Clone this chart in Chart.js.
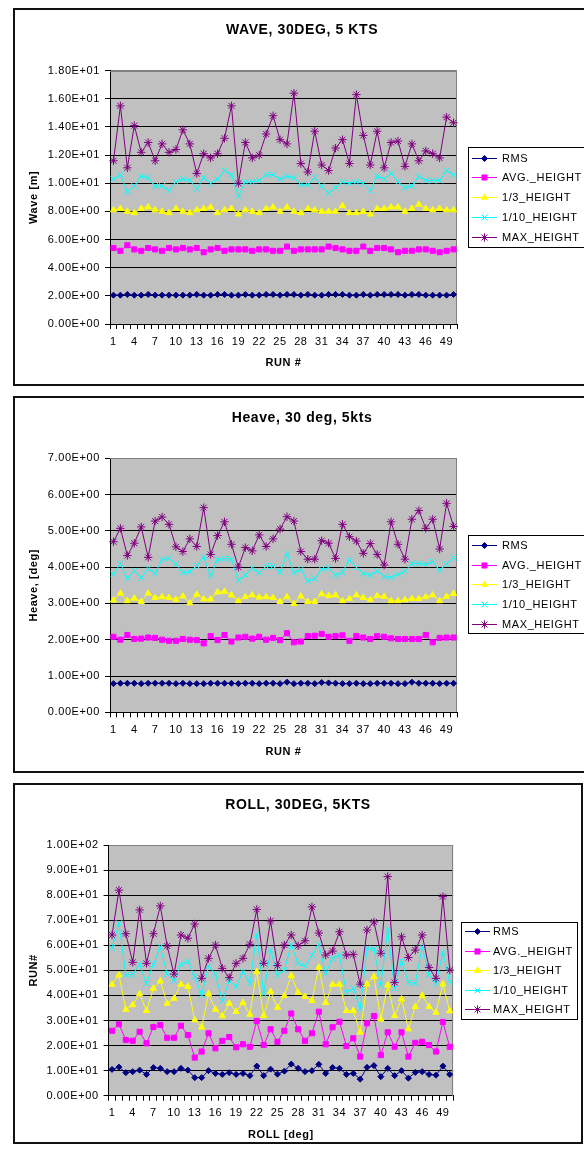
<!DOCTYPE html>
<html>
<head>
<meta charset="utf-8">
<script src="https://cdn.jsdelivr.net/npm/chart.js@4/dist/chart.umd.min.js"></script>
<style>
html,body{margin:0;padding:0;background:#fff;width:584px;height:1151px;overflow:hidden;}
body{position:relative;}
canvas{position:absolute;left:13px;}
.box{position:absolute;left:13px;border:2px solid #111;box-sizing:border-box;pointer-events:none;}
</style>
</head>
<body>
<canvas id="c1" width="578" height="378" style="top:8px;width:578px;height:378px"></canvas>
<div class="box" style="top:8px;width:578px;height:378px"></div>
<canvas id="c2" width="578" height="377" style="top:396px;width:578px;height:377px"></canvas>
<div class="box" style="top:396px;width:578px;height:377px"></div>
<canvas id="c3" width="570" height="361" style="top:783px;width:570px;height:361px"></canvas>
<div class="box" style="top:783px;width:570px;height:361px"></div>
<script>
// ---------- DATA ----------
const runs = ['1','2','3','4','5','6','7','8','9','10','11','12','13','14','15','16','17','18','19','20','21','22','23','24','25','26','27','28','29','30','31','32','33','34','35','36','37','38','39','40','41','42','43','44','45','46','47','48','49','50'];
const shownRunLabels = ['1','4','7','10','13','16','19','22','25','28','31','34','37','40','43','46','49'];
const seriesNames = ['RMS','AVG._HEIGHT','1/3_HEIGHT','1/10_HEIGHT','MAX_HEIGHT'];

const waveYTicks = [0,2,4,6,8,10,12,14,16,18];
const heaveYTicks = [0,1,2,3,4,5,6,7];
const rollYTicks = [0,10,20,30,40,50,60,70,80,90,100];

const waveRms = [2.05,2.05,2.1,2.05,2.05,2.1,2.05,2.05,2.05,2.05,2.05,2.05,2.1,2.05,2.05,2.1,2.1,2.05,2.05,2.1,2.05,2.05,2.1,2.1,2.05,2.1,2.1,2.05,2.1,2.05,2.05,2.1,2.1,2.1,2.05,2.05,2.1,2.05,2.1,2.1,2.1,2.1,2.05,2.1,2.1,2.05,2.05,2.05,2.05,2.1];
const waveAvg = [5.4,5.2,5.6,5.3,5.2,5.4,5.3,5.2,5.4,5.3,5.4,5.3,5.4,5.1,5.3,5.4,5.2,5.3,5.3,5.3,5.2,5.3,5.3,5.2,5.2,5.5,5.2,5.3,5.3,5.3,5.3,5.5,5.4,5.3,5.2,5.2,5.5,5.2,5.4,5.4,5.3,5.1,5.2,5.2,5.3,5.3,5.2,5.1,5.2,5.3];
const waveH3 = [8.1,8.2,8.0,7.9,8.2,8.3,8.1,8.0,7.9,8.2,8.0,7.9,8.1,8.2,8.3,7.9,8.1,8.2,7.8,8.1,8.0,7.9,8.2,8.3,8.0,8.3,8.0,7.9,8.2,8.1,8.0,8.0,8.0,8.4,7.9,7.9,8.0,7.8,8.2,8.2,8.3,8.3,8.0,8.2,8.5,8.2,8.1,8.2,8.1,8.1];
const waveH10 = [10.3,10.6,9.4,9.8,10.5,10.4,9.8,9.8,9.5,10.1,10.3,10.2,9.6,10.4,10.0,10.3,10.9,10.6,9.1,10.1,10.1,10.2,10.6,10.6,10.3,10.5,10.4,9.9,9.9,10.4,9.8,9.3,9.7,10.1,10.0,10.1,10.0,9.5,10.5,10.3,10.7,10.1,9.7,9.8,10.5,10.2,10.2,10.2,10.9,10.6];
const waveMax = [11.6,15.5,11.1,14.1,12.2,12.9,11.6,12.8,12.2,12.4,13.8,12.8,10.7,12.1,11.8,12.1,13.2,15.5,10.0,12.9,11.8,12.0,13.5,14.8,13.1,12.8,16.4,11.4,10.8,13.7,11.3,10.9,12.5,13.1,11.4,16.3,13.4,11.3,13.7,11.1,12.9,13.0,11.2,12.8,11.6,12.3,12.1,11.8,14.7,14.3];

const heaveRms = [0.79,0.80,0.80,0.80,0.79,0.80,0.80,0.80,0.80,0.79,0.80,0.79,0.79,0.79,0.80,0.80,0.80,0.80,0.79,0.80,0.80,0.79,0.80,0.80,0.79,0.83,0.79,0.80,0.80,0.79,0.82,0.81,0.80,0.79,0.79,0.80,0.79,0.79,0.80,0.80,0.80,0.79,0.79,0.83,0.80,0.80,0.80,0.79,0.80,0.80];
const heaveAvg = [2.08,2.00,2.13,2.02,2.03,2.06,2.05,2.00,1.97,1.97,2.02,2.00,1.99,1.90,2.10,1.99,2.13,1.95,2.06,2.08,2.03,2.08,2.00,2.05,1.99,2.18,1.93,1.95,2.10,2.11,2.16,2.08,2.10,2.12,1.97,2.10,2.06,2.02,2.10,2.08,2.04,2.02,2.02,2.02,2.02,2.13,1.93,2.05,2.06,2.06];
const heaveH3 = [3.09,3.28,3.07,3.14,3.05,3.28,3.16,3.18,3.16,3.11,3.20,3.01,3.25,3.12,3.12,3.31,3.33,3.23,3.07,3.18,3.23,3.17,3.18,3.16,3.05,3.18,2.99,3.20,3.05,3.05,3.26,3.21,3.23,3.07,3.13,3.23,3.16,3.10,3.21,3.19,3.07,3.07,3.10,3.13,3.13,3.18,3.23,3.07,3.19,3.27];
const heaveH10 = [3.81,4.10,3.69,3.90,3.71,3.96,3.83,4.21,4.24,4.09,3.85,3.88,4.04,4.28,3.76,4.21,4.24,4.22,3.64,3.78,3.97,3.85,4.03,4.03,3.86,4.37,3.85,3.94,3.62,3.69,3.94,3.98,3.78,3.86,4.20,3.99,3.83,3.78,3.89,3.74,3.72,3.80,3.89,4.10,4.10,4.08,4.15,3.92,4.09,4.26];
const heaveMax = [4.70,5.07,4.32,4.66,5.11,4.27,5.27,5.38,5.18,4.56,4.43,4.78,4.57,5.64,4.35,4.87,5.25,4.63,4.00,4.54,4.45,4.89,4.57,4.78,5.05,5.39,5.27,4.43,4.22,4.22,4.73,4.66,4.24,5.18,4.84,4.72,4.38,4.65,4.35,4.06,5.25,4.63,4.22,5.32,5.56,5.07,5.32,4.50,5.76,5.12];

const rollRms = [10.5,11.4,9.2,9.6,10.2,8.5,11.2,10.9,9.6,9.6,10.9,10.2,7.2,7.2,10.0,8.9,8.5,9.2,8.5,8.9,8.0,11.8,8.0,10.6,8.6,9.8,12.6,10.9,9.6,10.0,12.5,8.9,11.2,10.9,8.5,8.9,6.6,11.3,12.0,7.6,10.9,8.0,10.0,7.0,9.3,9.6,8.5,8.2,11.8,8.5];
const rollAvg = [25.9,28.5,22.2,21.9,25.5,20.9,27.4,28.2,23.1,23.1,27.9,24.2,15.2,17.6,24.9,18.9,21.9,23.4,19.3,20.5,19.5,29.8,20.2,26.5,21.5,25.9,32.8,26.5,21.9,24.9,33.5,20.5,27.3,29.5,19.8,22.9,15.6,28.9,31.8,16.2,25.3,19.5,25.3,15.6,21.1,21.5,20.2,17.6,29.4,19.5];
const rollH3 = [44.4,48.1,34.4,36.2,40.6,33.9,42.8,45.7,36.8,38.8,44.4,43.6,30.2,27.3,40.6,34.4,31.8,36.8,33.5,37.1,32.4,49.5,31.9,41.5,35.2,39.9,47.9,41.1,39.5,37.9,51.2,37.1,44.4,44.4,33.9,33.9,25.3,44.5,47.5,30.5,44.1,31.9,38.6,26.6,35.5,40.0,35.5,33.2,44.5,33.8];
const rollH10 = [59.0,68.8,48.1,48.4,52.4,44.8,52.4,59.4,48.5,45.9,52.4,53.5,47.5,40.2,51.7,48.5,37.8,45.9,43.5,49.5,44.8,64.4,40.6,58.1,48.1,50.1,60.1,52.8,51.7,56.1,60.4,48.8,54.8,56.1,41.2,42.8,34.8,58.8,58.5,44.1,66.4,42.8,53.9,45.2,44.8,59.4,48.1,44.8,57.2,45.5];
const rollMax = [64.1,82.0,64.6,53.2,74.1,52.8,64.6,75.7,59.7,48.5,64.1,62.8,68.5,46.8,54.8,60.1,50.8,47.1,52.8,54.8,60.4,74.3,52.8,69.7,51.9,60.1,64.1,59.8,61.8,75.3,64.9,56.1,57.7,65.4,56.1,56.4,44.5,66.1,69.3,56.8,87.4,45.2,63.4,55.1,58.1,64.1,51.1,46.8,79.4,50.1];

// ---------- STYLE ----------
const FONT = "'Liberation Sans', Arial, Helvetica, sans-serif";
const SPACING = '0.6px';
const styles = [
  {color:'#000080', pointStyle:'rectRot', radius:3},
  {color:'#FF00FF', pointStyle:'rect', radius:3.6},
  {color:'#FFFF00', pointStyle:'triangle', radius:3.6},
  {color:'#00FFFF', pointStyle:'crossRot', radius:4.2},
  {color:'#800080', pointStyle:'star', radius:4.2}
];

function sci(v) {
  if (v === 0) return '0.00E+00';
  let e = Math.floor(Math.log10(Math.abs(v)) + 1e-9);
  let m = v / Math.pow(10, e);
  if (Math.abs(m) >= 9.995) { m /= 10; e++; }
  return m.toFixed(2) + 'E' + (e < 0 ? '-' : '+') + String(Math.abs(e)).padStart(2, '0');
}

function fallbackPoint(ctx, style, r, x, y) {
  ctx.beginPath();
  const s = Math.SQRT1_2 * r;
  if (style === 'rect') { ctx.rect(x - s, y - s, 2 * s, 2 * s); ctx.fill(); ctx.stroke(); return; }
  if (style === 'rectRot') { ctx.moveTo(x, y - r); ctx.lineTo(x + r, y); ctx.lineTo(x, y + r); ctx.lineTo(x - r, y); ctx.closePath(); ctx.fill(); ctx.stroke(); return; }
  if (style === 'triangle') { const a = 2 * Math.PI / 3; ctx.moveTo(x, y - r); ctx.lineTo(x + Math.sin(a) * r, y - Math.cos(a) * r); ctx.lineTo(x - Math.sin(a) * r, y - Math.cos(a) * r); ctx.closePath(); ctx.fill(); ctx.stroke(); return; }
  if (style === 'crossRot' || style === 'star') { ctx.moveTo(x - s, y - s); ctx.lineTo(x + s, y + s); ctx.moveTo(x - s, y + s); ctx.lineTo(x + s, y - s); }
  if (style === 'star') { ctx.moveTo(x, y - r); ctx.lineTo(x, y + r); ctx.moveTo(x - r, y); ctx.lineTo(x + r, y); }
  ctx.stroke();
}

const plotDecor = {
  id: 'plotDecor',
  beforeDraw(chart) {
    const a = chart.chartArea, ctx = chart.ctx;
    ctx.letterSpacing = SPACING;
    ctx.save();
    ctx.fillStyle = '#C0C0C0';
    ctx.fillRect(a.left, a.top, a.right - a.left, a.bottom - a.top);
    ctx.restore();
  },
  beforeDatasetsDraw(chart) {
    const a = chart.chartArea, ctx = chart.ctx;
    ctx.save();
    ctx.strokeStyle = '#808080';
    ctx.lineWidth = 1;
    ctx.beginPath();
    const t = Math.round(a.top) + 0.5, r = Math.round(a.right) - 0.5;
    ctx.moveTo(Math.round(a.left), t); ctx.lineTo(r, t); ctx.lineTo(r, Math.round(a.bottom));
    ctx.stroke();
    ctx.restore();
  }
};

const boxLegend = {
  id: 'boxLegend',
  afterDraw(chart, args, o) {
    const ctx = chart.ctx;
    ctx.save();
    ctx.letterSpacing = SPACING;
    ctx.font = '11px ' + FONT;
    const dsets = chart.data.datasets;
    let w = o.width;
    if (!w) { let m = 0; dsets.forEach(d => { m = Math.max(m, ctx.measureText(d.label).width); }); w = o.textOff + m + 8; }
    const L = Math.round(o.left), T = Math.round(o.top);
    ctx.fillStyle = '#fff';
    ctx.fillRect(L, T, w, o.height);
    ctx.strokeStyle = '#000'; ctx.lineWidth = 1;
    ctx.strokeRect(L + 0.5, T + 0.5, Math.round(w), Math.round(o.height));
    dsets.forEach((d, i) => {
      const y = Math.round(o.first + i * o.step) + 0.5;
      ctx.strokeStyle = d.borderColor; ctx.fillStyle = d.borderColor; ctx.lineWidth = 1;
      ctx.beginPath(); ctx.moveTo(L + 4, y); ctx.lineTo(L + 29, y); ctx.stroke();
      const px = L + 16.5;
      if (Chart.helpers && Chart.helpers.drawPoint) {
        ctx.beginPath();
        Chart.helpers.drawPoint(ctx, {pointStyle: d.pointStyle, radius: d.pointRadius, rotation: 0, borderWidth: 1}, px, y);
      } else {
        fallbackPoint(ctx, d.pointStyle, d.pointRadius, px, y);
      }
      ctx.fillStyle = '#000';
      ctx.textAlign = 'left'; ctx.textBaseline = 'middle';
      ctx.fillText(d.label, L + o.textOff, y);
    });
    ctx.restore();
  }
};

function makeChart(id, cfg) {
  const datasets = cfg.series.map((vals, i) => ({
    label: seriesNames[i],
    data: vals,
    borderColor: styles[i].color,
    backgroundColor: styles[i].color,
    borderWidth: 1,
    pointStyle: styles[i].pointStyle,
    pointRadius: styles[i].radius,
    pointBorderWidth: 1,
    pointBackgroundColor: styles[i].color,
    pointBorderColor: styles[i].color,
    pointHoverRadius: styles[i].radius,
    tension: 0,
    fill: false,
    order: 5 - i
  }));
  const yTicks = cfg.yTicks;
  const yMax = yTicks[yTicks.length - 1];
  return new Chart(document.getElementById(id), {
    type: 'line',
    data: {labels: runs, datasets: datasets},
    options: {
      responsive: false,
      animation: false,
      devicePixelRatio: 1,
      events: [],
      layout: {padding: {left: 0, right: 0, top: 0, bottom: cfg.padBottom}},
      plugins: {
        legend: {display: false},
        tooltip: {enabled: false},
        title: {
          display: true, text: cfg.title, color: '#000',
          font: {family: FONT, size: 14, weight: 'bold'},
          padding: {top: cfg.titleTop, bottom: cfg.titleBottom}
        },
        boxLegend: cfg.legend
      },
      scales: {
        x: {
          type: 'category',
          offset: true,
          grid: {display: true, offset: true, drawOnChartArea: false, drawTicks: true, tickLength: 5, color: '#000', tickColor: '#000', lineWidth: 1},
          border: {display: true, color: '#000', width: 1},
          ticks: {
            autoSkip: false, maxRotation: 0, minRotation: 0, padding: cfg.xPad, color: '#000',
            font: {family: FONT, size: 11},
            callback: function(v, i) { const l = runs[i]; return shownRunLabels.includes(l) ? l : ''; }
          },
          title: {display: true, text: cfg.xTitle, color: '#000', font: {family: FONT, size: 11, weight: 'bold'}, padding: {top: 0, bottom: 0}},
          afterFit(s) { s.height = cfg.xH; }
        },
        y: {
          type: 'linear',
          position: 'left',
          min: yTicks[0],
          max: yMax,
          afterBuildTicks(s) { s.ticks = yTicks.map(v => ({value: v})); },
          grid: {
            color: (c) => (c.tick && c.tick.value === yMax) ? '#808080' : '#000',
            tickColor: '#000', lineWidth: 1, drawTicks: true, tickLength: 5
          },
          border: {display: true, color: '#000', width: 1},
          ticks: {padding: 5, color: '#000', font: {family: FONT, size: 11}, callback: (v) => sci(v)},
          title: {display: true, text: cfg.yTitle, color: '#000', font: {family: FONT, size: 11, weight: 'bold'}, padding: {top: cfg.yTitlePad, bottom: 0}},
          afterFit(s) { s.width = cfg.yW; }
        },
        side: {
          type: 'linear', position: 'right', display: true,
          grid: {display: false}, border: {display: false}, ticks: {display: false},
          afterFit(s) { s.width = cfg.rW; }
        }
      }
    },
    plugins: [plotDecor, boxLegend]
  });
}

makeChart('c1', {
  series: [waveRms, waveAvg, waveH3, waveH10, waveMax],
  title: 'WAVE, 30DEG, 5 KTS', xTitle: 'RUN #', yTitle: 'Wave [m]',
  yTicks: waveYTicks,
  titleTop: 13.6, titleBottom: 32.3,
  padBottom: 16.4, xH: 45.6, xPad: 6.4,
  yW: 97, rW: 134, yTitlePad: 13.9,
  legend: {left: 455, top: 139.3, height: 99.7, first: 149.7, step: 19.75, textOff: 34, width: 0}
});

makeChart('c2', {
  series: [heaveRms, heaveAvg, heaveH3, heaveH10, heaveMax],
  title: 'Heave, 30 deg, 5kts', xTitle: 'RUN #', yTitle: 'Heave, [deg]',
  yTicks: heaveYTicks,
  titleTop: 13.6, titleBottom: 31.9,
  padBottom: 14.7, xH: 46, xPad: 6.1,
  yW: 97, rW: 134, yTitlePad: 13.9,
  legend: {left: 455.3, top: 139, height: 98.3, first: 149, step: 19.7, textOff: 34, width: 0}
});

makeChart('c3', {
  series: [rollRms, rollAvg, rollH3, rollH10, rollMax],
  title: 'ROLL, 30DEG, 5KTS', xTitle: 'ROLL [deg]', yTitle: 'RUN#',
  yTicks: rollYTicks,
  titleTop: 13.6, titleBottom: 31.6,
  padBottom: 2.4, xH: 45.9, xPad: 6.0,
  yW: 95.6, rW: 129.8, yTitlePad: 14.1,
  legend: {left: 447.7, top: 138.7, height: 96.6, first: 148, step: 19.5, textOff: 32, width: 116}
});
</script>
</body>
</html>
